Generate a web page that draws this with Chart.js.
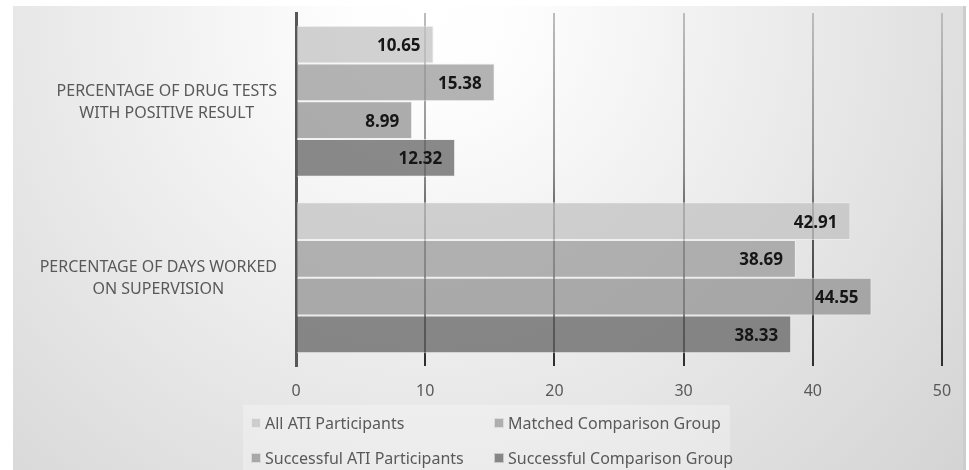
<!DOCTYPE html>
<html>
<head>
<meta charset="utf-8">
<script src="https://cdn.jsdelivr.net/npm/chart.js@4"></script>
<style>
  html, body { margin: 0; padding: 0; background: #fff; }
  #wrap { position: relative; width: 969px; height: 470px; overflow: hidden; }
  #chart { display: block; }
  #legend {
    position: absolute; left: 243px; top: 405px; width: 487px; height: 65px;
    background: rgba(255,255,255,0.28);
    display: grid; grid-template-columns: 243px 244px; grid-auto-rows: 35px;
    font: 16px "Noto Sans", sans-serif; color: #595959;
  }
  .item { display: flex; align-items: center; padding-left: 8px; white-space: nowrap; overflow: visible; }
  .sw { flex: 0 0 10px; width: 10px; height: 10px; margin-right: 4px; box-sizing: border-box; border: 1px solid rgba(255,255,255,0.55); }
</style>
</head>
<body>
<div id="wrap">
  <canvas id="chart" width="969" height="470"></canvas>
  <div id="legend"></div>
</div>
<script>
// Categories (each label split into its display lines)
const categories = [
  ["PERCENTAGE OF DRUG TESTS", "WITH POSITIVE RESULT"],
  ["PERCENTAGE OF DAYS WORKED", "ON SUPERVISION"]
];

const seriesNames = [
  "All ATI Participants",
  "Matched Comparison Group",
  "Successful ATI Participants",
  "Successful Comparison Group"
];

// Values per series, in category order
const allAtiParticipants        = [10.65, 42.91];
const matchedComparisonGroup    = [15.38, 38.69];
const successfulAtiParticipants = [8.99, 44.55];
const successfulComparisonGroup = [12.32, 38.33];

// Value axis ticks
const xTicks = [0, 10, 20, 30, 40, 50];

const seriesColors = [
  "rgba(194,194,194,0.75)",
  "rgba(153,153,153,0.75)",
  "rgba(145,145,145,0.75)",
  "rgba(99,99,99,0.75)"
];

const seriesValues = [allAtiParticipants, matchedComparisonGroup, successfulAtiParticipants, successfulComparisonGroup];

const FONT = '"Noto Sans", sans-serif';

// Soft radial backdrop behind the whole chart
const backdrop = {
  id: 'backdrop',
  beforeDraw(chart) {
    const ctx = chart.ctx;
    ctx.save();
    ctx.fillStyle = '#ffffff';
    ctx.fillRect(0, 0, chart.width, chart.height);
    const g = ctx.createRadialGradient(430, 10, 0, 430, 10, 760);
    g.addColorStop(0, '#ffffff');
    g.addColorStop(0.12, '#fdfdfd');
    g.addColorStop(1, '#d0d0d0');
    ctx.fillStyle = g;
    ctx.fillRect(13, 6, 950, chart.height - 6);
    ctx.fillStyle = '#cdcdcd';
    ctx.fillRect(963, 6, 3, chart.height - 6);
    ctx.restore();
  }
};

// Category names: widest line flush to the axis, lines centred within the block
const categoryLabels = {
  id: 'categoryLabels',
  afterDraw(chart) {
    const ctx = chart.ctx;
    const y = chart.scales.y;
    const area = chart.chartArea;
    ctx.save();
    ctx.font = '16px ' + FONT;
    ctx.fillStyle = '#595959';
    ctx.textAlign = 'center';
    ctx.textBaseline = 'alphabetic';
    chart.data.labels.forEach((lines, i) => {
      const cy = y.getPixelForValue(i);
      const widest = Math.max(...lines.map(l => ctx.measureText(l).width));
      const cx = area.left - 19 - widest / 2;
      const lh = 22;
      const first = cy - (lines.length - 1) * lh / 2;
      lines.forEach((line, k) => {
        ctx.fillText(line, cx, first + k * lh + 5.7);
      });
    });
    ctx.restore();
  }
};

// Value labels inside the end of every bar
const valueLabels = {
  id: 'valueLabels',
  afterDraw(chart) {
    const ctx = chart.ctx;
    ctx.save();
    ctx.font = 'bold 17px ' + FONT;
    ctx.fillStyle = '#161616';
    ctx.textAlign = 'right';
    ctx.textBaseline = 'alphabetic';
    chart.data.datasets.forEach((ds, di) => {
      const meta = chart.getDatasetMeta(di);
      meta.data.forEach((bar, i) => {
        ctx.fillText(ds.data[i].toFixed(2), bar.x - 13, bar.y + 6.5);
      });
    });
    ctx.restore();
  }
};

let gridGradient = null;
function gridColor(c) {
  if (c.tick && c.tick.value === 0) return 'rgba(0,0,0,0)';
  const area = c.chart.chartArea;
  if (!area) return '#999';
  if (!gridGradient) {
    gridGradient = c.chart.ctx.createLinearGradient(0, area.top, 0, area.bottom);
    gridGradient.addColorStop(0, '#bdbdbd');
    gridGradient.addColorStop(0.45, '#8c8c8c');
    gridGradient.addColorStop(0.6, '#5c5c5c');
    gridGradient.addColorStop(1, '#2e2e2e');
  }
  return gridGradient;
}

const chart = new Chart(document.getElementById('chart'), {
  type: 'bar',
  data: {
    labels: categories,
    datasets: seriesNames.map((name, i) => ({
      label: name,
      data: seriesValues[i],
      backgroundColor: seriesColors[i],
      borderColor: 'rgba(240,240,240,0.7)',
      borderWidth: 1,
      categoryPercentage: 0.855,
      barPercentage: 1
    }))
  },
  options: {
    indexAxis: 'y',
    responsive: false,
    devicePixelRatio: 1,
    animation: false,
    layout: { padding: { left: 0, right: 27, top: 13, bottom: 0 } },
    plugins: {
      legend: { display: false },
      tooltip: { enabled: false }
    },
    scales: {
      x: {
        type: 'linear',
        min: xTicks[0],
        max: xTicks[xTicks.length - 1],
        afterBuildTicks(scale) { scale.ticks = xTicks.map(v => ({ value: v })); },
        afterFit(scale) { scale.height = 104; },
        border: { display: false },
        grid: { color: gridColor, lineWidth: 2, drawTicks: false },
        ticks: { color: '#595959', font: { family: FONT, size: 16 }, padding: 16 }
      },
      y: {
        type: 'category',
        afterFit(scale) { scale.width = 296; },
        border: { display: true, color: '#585858', width: 3 },
        grid: { display: false, drawTicks: false },
        ticks: { display: false }
      }
    }
  },
  plugins: [backdrop, categoryLabels, valueLabels]
});

// Legend built from the chart's own datasets
const legendEl = document.getElementById('legend');
chart.options.plugins.legend.labels.generateLabels(chart).forEach(item => {
  const div = document.createElement('div');
  div.className = 'item';
  const sw = document.createElement('span');
  sw.className = 'sw';
  sw.style.background = item.fillStyle;
  const tx = document.createElement('span');
  tx.textContent = item.text;
  div.appendChild(sw);
  div.appendChild(tx);
  legendEl.appendChild(div);
});
</script>
</body>
</html>
